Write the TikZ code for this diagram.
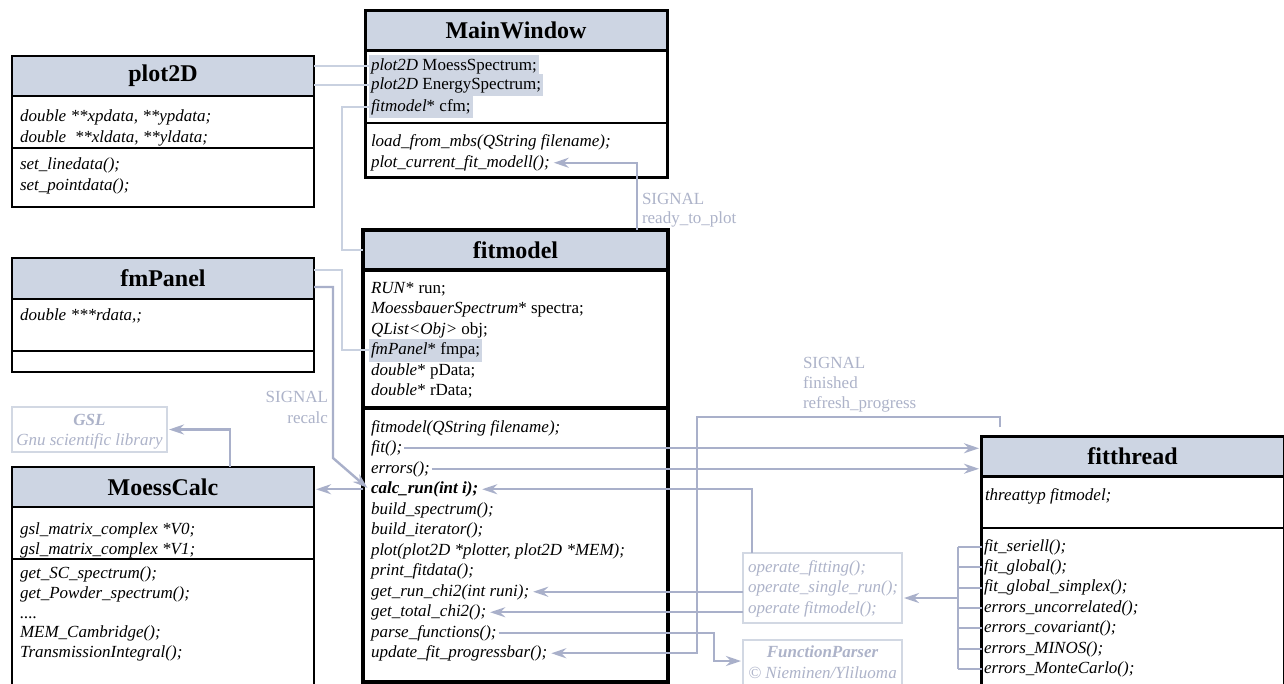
\documentclass[tikz,border=0pt]{standalone}
\usepackage{fontspec}
\setmainfont{Liberation Serif}
\usetikzlibrary{arrows.meta,calc}
\definecolor{hdrfill}{HTML}{CDD5E3}
\definecolor{hlfill}{HTML}{CFD6E3}
\definecolor{assoccol}{HTML}{C9D1E0}
\definecolor{sigcol}{HTML}{A9B0CA}
\definecolor{graytxt}{HTML}{ADB3C9}
\definecolor{graybox}{HTML}{D2D8E3}
\tikzset{
 frame/.style={draw=black, fill=white, inner sep=0pt, outer sep=0pt, anchor=north west},
 hdr/.style={draw=black, fill=hdrfill, inner sep=0pt, outer sep=0pt, anchor=north west, font=\fontsize{24}{28}\selectfont\bfseries},
 tx/.style={anchor=base west, inner xsep=2pt, inner ysep=3pt, outer sep=0pt, text height=12.5pt, text depth=4pt, font=\fontsize{17}{20}\selectfont},
 itx/.style={tx, font=\fontsize{17}{20}\selectfont\itshape},
 hltx/.style={tx, fill=hlfill},
 gtx/.style={tx, text=graytxt},
 gitx/.style={itx, text=graytxt},
 gbox/.style={draw=graybox, fill=white, line width=2pt, inner sep=0pt, outer sep=0pt, anchor=north west},
 assoc/.style={draw=assoccol, line width=2.4pt},
 sig/.style={draw=sigcol, line width=2.4pt},
 sigarr/.style={sig, -{Stealth[length=15pt,width=10pt,inset=5pt]}, shorten >=2pt},
}
\begin{document}
\begin{tikzpicture}[x=1pt,y=-1pt]
\useasboundingbox (0,0) rectangle (1284,683);
\fill[white] (0,0) rectangle (1284,683);

% ---------- plot2D
\node[frame, line width=2.5pt, minimum width=302pt, minimum height=151pt] (p2d) at (12,56) {};
\node[hdr, line width=2.5pt, minimum width=302pt, minimum height=40pt] (p2dH) at (12,56) {plot2D};
\draw[line width=2pt] (12,148) -- (314,148);
\node[itx] (p2dA1) at (18,121) {double **xpdata, **ypdata;};
\node[itx] (p2dA2) at (18,142) {double\ \ **xldata, **yldata;};
\node[itx] (p2dM1) at (18,169) {set\_linedata();};
\node[itx] (p2dM2) at (18,190) {set\_pointdata();};

% ---------- MainWindow
\node[frame, line width=3pt, minimum width=302pt, minimum height=167pt] (mw) at (365,10) {};
\node[hdr, line width=3pt, minimum width=302pt, minimum height=40pt] (mwH) at (365,10) {MainWindow};
\draw[line width=2pt] (365,123) -- (667,123);
\node[hltx] (mwA1) at (369,70) {\textit{plot2D} MoessSpectrum;};
\node[hltx] (mwA2) at (369,89) {\textit{plot2D} EnergySpectrum;};
\node[hltx] (mwA3) at (369,111) {\textit{fitmodel}* cfm;};
\node[itx] (mwM1) at (369,146) {load\_from\_mbs(QString filename);};
\node[itx] (mwM2) at (369,167) {plot\_current\_fit\_modell();};

% ---------- fmPanel
\node[frame, line width=2.5pt, minimum width=302pt, minimum height=114pt] (fp) at (12,258) {};
\node[hdr, line width=2.5pt, minimum width=302pt, minimum height=41pt] (fpH) at (12,258) {fmPanel};
\draw[line width=2pt] (12,351) -- (314,351);
\node[itx] (fpA1) at (18,320) {double ***rdata,;};

% ---------- GSL
\node[gbox, minimum width=155pt, minimum height=45pt] (gsl) at (12,407) {};
\node[gitx, anchor=base, font=\fontsize{17}{20}\selectfont\bfseries\itshape] (gslT1) at (89.5,425) {GSL};
\node[gitx, anchor=base] (gslT2) at (89.5,445) {Gnu scientific library};

% ---------- MoessCalc
\node[frame, line width=2.5pt, minimum width=302pt, minimum height=240pt] (mc) at (12,467) {};
\node[hdr, line width=2.5pt, minimum width=302pt, minimum height=40pt] (mcH) at (12,467) {MoessCalc};
\draw[line width=2pt] (12,559) -- (314,559);
\node[itx] (mcA1) at (18,534) {gsl\_matrix\_complex *V0;};
\node[itx] (mcA2) at (18,554) {gsl\_matrix\_complex *V1;};
\node[itx] (mcM1) at (18,578) {get\_SC\_spectrum();};
\node[itx] (mcM2) at (18,598) {get\_Powder\_spectrum();};
\node[itx] (mcM3) at (18,618) {....};
\node[itx] (mcM4) at (18,637) {MEM\_Cambridge();};
\node[itx] (mcM5) at (18,657) {TransmissionIntegral();};

% ---------- fitmodel
\node[frame, line width=4pt, minimum width=305pt, minimum height=452pt] (fm) at (363,230) {};
\node[hdr, line width=4pt, minimum width=305pt, minimum height=40pt] (fmH) at (363,230) {fitmodel};
\draw[line width=4pt] (363,408) -- (668,408);
\node[tx] (fmA1) at (369,293) {\textit{RUN}* run;};
\node[tx] (fmA2) at (369,313.5) {\textit{MoessbauerSpectrum}* spectra;};
\node[tx] (fmA3) at (369,334) {\textit{QList<Obj>} obj;};
\node[hltx] (fmA4) at (369,354.5) {\textit{fmPanel}* fmpa;};
\node[tx] (fmA5) at (369,375) {\textit{double}* pData;};
\node[tx] (fmA6) at (369,395.5) {\textit{double}* rData;};
\node[itx] (fmM1) at (369,432) {fitmodel(QString filename);};
\node[itx] (fmM2) at (369,452.5) {fit();};
\node[itx] (fmM3) at (369,473) {errors();};
\node[itx, font=\fontsize{17}{20}\selectfont\bfseries\itshape] (fmM4) at (369,493.5) {calc\_run(int i);};
\node[itx] (fmM5) at (369,514) {build\_spectrum();};
\node[itx] (fmM6) at (369,534.5) {build\_iterator();};
\node[itx] (fmM7) at (369,555) {plot(plot2D *plotter, plot2D *MEM);};
\node[itx] (fmM8) at (369,575.5) {print\_fitdata();};
\node[itx] (fmM9) at (369,596) {get\_run\_chi2(int runi);};
\node[itx] (fmM10) at (369,616.5) {get\_total\_chi2();};
\node[itx] (fmM11) at (369,637) {parse\_functions();};
\node[itx] (fmM12) at (369,657.5) {update\_fit\_progressbar();};

% ---------- operate box
\node[gbox, minimum width=159pt, minimum height=70pt] (op) at (743,553) {};
\node[gitx] (opT1) at (746,572) {operate\_fitting();};
\node[gitx] (opT2) at (746,592) {operate\_single\_run();};
\node[gitx] (opT3) at (746,613) {operate fitmodel();};

% ---------- FunctionParser
\node[gbox, minimum width=159pt, minimum height=60pt] (fpar) at (743,640) {};
\node[gitx, anchor=base, font=\fontsize{17}{20}\selectfont\bfseries\itshape] (fparT1) at (822.5,657) {FunctionParser};
\node[gitx, anchor=base] (fparT2) at (822.5,678) {© Nieminen/Yliluoma};

% ---------- fitthread
\node[frame, line width=3pt, minimum width=303pt, minimum height=260pt] (ft) at (981,436) {};
\node[hdr, line width=3pt, minimum width=303pt, minimum height=40pt] (ftH) at (981,436) {fitthread};
\draw[line width=2pt] (981,528) -- (1284,528);
\node[itx] (ftA1) at (983,500) {threattyp fitmodel;};
\node[itx] (ftM1) at (982,551) {fit\_seriell();};
\node[itx] (ftM2) at (982,571.4) {fit\_global();};
\node[itx] (ftM3) at (982,591.8) {fit\_global\_simplex();};
\node[itx] (ftM4) at (982,612.2) {errors\_uncorrelated();};
\node[itx] (ftM5) at (982,632.6) {errors\_covariant();};
\node[itx] (ftM6) at (982,653) {errors\_MINOS();};
\node[itx] (ftM7) at (982,673.4) {errors\_MonteCarlo();};

% ---------- signal labels
\node[gtx, anchor=base east] (lrc1) at (330,402) {SIGNAL};
\node[gtx, anchor=base east] (lrc2) at (330,423) {recalc};
\node[gtx] (lrp1) at (640,204) {SIGNAL};
\node[gtx] (lrp2) at (640,223) {ready\_to\_plot};
\node[gtx] (lfin1) at (801,368) {SIGNAL};
\node[gtx] (lfin2) at (801,388) {finished};
\node[gtx] (lfin3) at (801,408) {refresh\_progress};

% ---------- bend coordinates
\coordinate (b342) at (342,0);
\coordinate (b230) at (230,0);
\coordinate (b637) at (637,0);
\coordinate (b752) at (752,0);
\coordinate (b714) at (714,0);
\coordinate (b958) at (958,0);
\coordinate (b1000) at (1000,0);
\coordinate (rcb) at (333,458);
\coordinate (u1) at (697,417);
\coordinate (brk) at (958,598);
\coordinate (fpS1) at ($(fpH.east)+(0,-8.5)$);
\coordinate (fpS2) at ($(fpH.east)+(0,8.5)$);
\coordinate (fpA) at ($(fpar.north west)+(0,21)$);
\coordinate (ftSig) at ($(ft.north -| b1000)+(0,-9)$);

% ---------- associations
\draw[assoc] (p2d.east |- mwA1.west) -- (mwA1.west);
\draw[assoc] (p2d.east |- mwA2.west) -- (mwA2.west);
\draw[assoc] (mwA3.west) -| (b342 |- fmH.west) -- (fmH.west);
\draw[assoc] (fpS1) -| (b342 |- fmA4.west) -- (fmA4.west);

% ---------- signals / calls
\draw[sigarr] (fpS2) -| (rcb) -- (fmM4.west);
\draw[sigarr] (fm.west |- fmM4.west) -- (mcH.east |- fmM4.west);
\draw[sigarr] (mcH.north -| b230) |- (gsl.east);
\draw[sigarr] (fm.north -| b637) |- (mwM2.east);
\draw[sigarr] (fmM2.east) -- (ft.west |- fmM2.east);
\draw[sigarr] (fmM3.east) -- (ft.west |- fmM3.east);
\draw[sigarr] (op.north -| b752) |- (fmM4.east);
\draw[sigarr] (op.west |- fmM9.east) -- (fmM9.east);
\draw[sigarr] (op.west |- fmM10.east) -- (fmM10.east);
\draw[sigarr] (fmM11.east) -| (b714 |- fpA) -- (fpA);
\draw[sigarr] (ftSig) |- (u1) |- (fmM12.east);
\foreach \i in {1,...,7} { \draw[sig, line width=2pt] (b958 |- ftM\i.west) -- (ftM\i.west); }
\draw[sig, line width=2pt] (b958 |- ftM1.west) -- (b958 |- ftM7.west);
\draw[sigarr] (brk) -- (op.east |- brk);
\end{tikzpicture}
\end{document}
